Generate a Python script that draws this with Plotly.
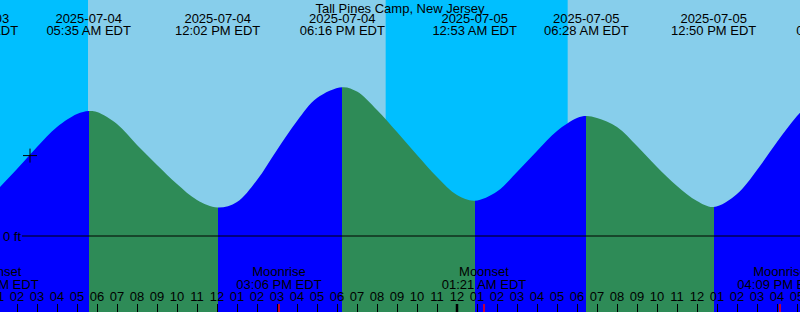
import pandas as pd
import plotly.graph_objects as go

# ---------------- data ----------------
station = "Tall Pines Camp, New Jersey"

# tide height samples (ft)
sample_times = [
    "2025-07-04 01:00", "2025-07-04 02:00", "2025-07-04 03:00", "2025-07-04 04:00",
    "2025-07-04 05:00", "2025-07-04 05:35", "2025-07-04 06:00", "2025-07-04 07:00",
    "2025-07-04 08:00", "2025-07-04 09:00", "2025-07-04 10:00", "2025-07-04 11:00",
    "2025-07-04 12:02", "2025-07-04 13:00", "2025-07-04 14:00",
    "2025-07-04 15:00", "2025-07-04 16:00", "2025-07-04 17:00",
    "2025-07-04 18:16", "2025-07-04 19:00", "2025-07-04 20:00", "2025-07-04 21:00",
    "2025-07-04 22:00", "2025-07-04 23:00", "2025-07-05 00:00", "2025-07-05 00:53",
    "2025-07-05 02:00", "2025-07-05 03:00", "2025-07-05 04:00",
    "2025-07-05 05:00", "2025-07-05 06:00", "2025-07-05 06:28", "2025-07-05 07:00",
    "2025-07-05 08:00", "2025-07-05 09:00", "2025-07-05 10:00", "2025-07-05 11:00",
    "2025-07-05 12:00", "2025-07-05 12:50", "2025-07-05 14:00",
    "2025-07-05 15:00", "2025-07-05 16:00", "2025-07-05 17:00", "2025-07-05 18:00",
]
sample_ft = [
    1.15, 1.675, 2.225, 2.725,
    3.05, 3.125, 3.10, 2.80,
    2.275, 1.775, 1.30, 0.90,
    0.71, 0.85, 1.40,
    2.15, 2.875, 3.45,
    3.72, 3.61, 3.15, 2.60,
    2.025, 1.475, 1.025, 0.88,
    1.11, 1.60, 2.125,
    2.625, 2.95, 3.00, 2.95,
    2.725, 2.25, 1.725, 1.25,
    0.875, 0.725, 1.05,
    1.65, 2.35, 3.00, 3.50,
]

# high / low tide times (labels along the top)
tide_times = [
    "2025-07-03 23:57", "2025-07-04 05:35", "2025-07-04 12:02", "2025-07-04 18:16",
    "2025-07-05 00:53", "2025-07-05 06:28", "2025-07-05 12:50", "2025-07-05 19:06",
]

# sunrise / sunset
sunrise_times = ["2025-07-04 05:33", "2025-07-05 05:32"]
sunset_times = ["2025-07-04 20:26", "2025-07-05 20:27"]

# moon events
moon_times = ["2025-07-04 00:58", "2025-07-04 15:06", "2025-07-05 01:21", "2025-07-05 16:09"]
moon_kinds = ["Moonset", "Moonrise", "Moonset", "Moonrise"]

# marked point
mark_time = "2025-07-04 02:39"
mark_ft = 2.01

x_start = "2025-07-04 01:09"
x_end = "2025-07-05 17:09"

# ---------------- style ----------------
W, H = 800, 312
Y_TOP, Y_BOT = 5.9, -1.9
NIGHT = "#00BFFF"
DAY = "#87CEEB"
FLOOD = "#0000FF"
EBB = "#2E8B57"
FONT = "Liberation Sans, Arial, sans-serif"
FS = 13


def row(px):
    """pixel row from top -> y-axis value"""
    return Y_TOP - px * (Y_TOP - Y_BOT) / H


def ms(t):
    return pd.Timestamp(t).value // 10**6


ts = pd.to_datetime(pd.Series(sample_times))
tide_ts = pd.to_datetime(pd.Series(tide_times))

# horizontal hard-stop gradient: flood (rising) blue, ebb (falling) green
t0, t1 = ms(ts.min()), ms(ts.max())
ext = [t for t in tide_ts if ts.min() < t < ts.max()]
edges = [ts.min()] + ext + [ts.max()]
ft_at = dict(zip(ts, sample_ft))
colorscale = []
for a, b in zip(edges[:-1], edges[1:]):
    col = FLOOD if ft_at[b] > ft_at[a] else EBB
    fa = (ms(a) - t0) / (t1 - t0)
    fb = (ms(b) - t0) / (t1 - t0)
    colorscale.append([fa, col])
    colorscale.append([fb, col])

fig = go.Figure()

fig.add_trace(go.Scatter(
    x=[ts.min(), ts.max()], y=[Y_BOT - 1, Y_BOT - 1],
    mode="lines", line=dict(width=0), hoverinfo="skip", showlegend=False))
fig.add_trace(go.Scatter(
    x=ts, y=sample_ft, mode="lines", line=dict(width=0, shape="spline"),
    fill="tonexty", fillcolor=FLOOD,
    fillgradient=dict(type="horizontal", start=t0, stop=t1, colorscale=colorscale),
    hoverinfo="skip", showlegend=False))

# marked point
fig.add_trace(go.Scatter(
    x=[mark_time], y=[mark_ft], mode="markers",
    marker=dict(symbol="cross-thin", size=10, line=dict(width=1, color="black")),
    hoverinfo="skip", showlegend=False))

txt = dict(family=FONT, size=FS, color="black")

# top labels for tides
fig.add_trace(go.Scatter(
    x=tide_ts, y=[row(19.5)] * len(tide_ts), mode="text",
    text=[t.strftime("%Y-%m-%d") for t in tide_ts], textposition="middle center",
    textfont=txt, hoverinfo="skip", showlegend=False))
fig.add_trace(go.Scatter(
    x=tide_ts, y=[row(31.5)] * len(tide_ts), mode="text",
    text=[t.strftime("%I:%M %p EDT") for t in tide_ts], textposition="middle center",
    textfont=txt, hoverinfo="skip", showlegend=False))

# moon labels
moon_ts = pd.to_datetime(pd.Series(moon_times))
fig.add_trace(go.Scatter(
    x=moon_ts, y=[row(273)] * len(moon_ts), mode="text", text=moon_kinds,
    textposition="middle center", textfont=txt, hoverinfo="skip", showlegend=False))
fig.add_trace(go.Scatter(
    x=moon_ts, y=[row(286)] * len(moon_ts), mode="text",
    text=[t.strftime("%I:%M %p EDT") for t in moon_ts], textposition="middle center",
    textfont=txt, hoverinfo="skip", showlegend=False))

# hour labels
hours = pd.date_range("2025-07-04 01:00", "2025-07-05 17:00", freq="h")
fig.add_trace(go.Scatter(
    x=hours, y=[row(297.5)] * len(hours), mode="text",
    text=[h.strftime("%I") for h in hours], textposition="middle center",
    textfont=txt, hoverinfo="skip", showlegend=False))

shapes = []
# daylight bands
for sr, ss in zip(sunrise_times, sunset_times):
    shapes.append(dict(type="rect", xref="x", yref="paper", x0=sr, x1=ss, y0=0, y1=1,
                       fillcolor=DAY, line=dict(width=0), layer="below"))
# zero line
shapes.append(dict(type="line", xref="paper", yref="y", x0=22 / W, x1=1, y0=0, y1=0,
                   line=dict(color="black", width=1)))
# midnight tick
for d in pd.date_range("2025-07-05", "2025-07-05", freq="D"):
    shapes.append(dict(type="line", xref="x", yref="paper", x0=d, x1=d, y0=0, y1=8 / H,
                       line=dict(color="black", width=2.5)))
# moon event ticks
for t in moon_ts:
    shapes.append(dict(type="line", xref="x", yref="paper", x0=t, x1=t, y0=0, y1=8 / H,
                       line=dict(color="red", width=1.5)))

fig.update_layout(
    width=W, height=H,
    margin=dict(l=0, r=0, t=0, b=0),
    paper_bgcolor=NIGHT, plot_bgcolor=NIGHT,
    showlegend=False,
    shapes=shapes,
    title=dict(text=station, x=0.5, xanchor="center", y=1 - 8 / H, yanchor="middle",
               font=txt),
    annotations=[dict(text="0 ft", xref="paper", yref="y", x=0, y=0, xanchor="left",
                      yanchor="middle", xshift=1, showarrow=False, font=txt)],
    xaxis=dict(type="date", range=[x_start, x_end], showgrid=False, zeroline=False,
               showline=False, ticks="inside", ticklen=8, tickwidth=1, tickcolor="black",
               tick0="2025-07-04 00:00", dtick=3600000, showticklabels=False, fixedrange=True),
    yaxis=dict(range=[Y_BOT, Y_TOP], visible=False, fixedrange=True),
)

fig.write_html("out.html")
